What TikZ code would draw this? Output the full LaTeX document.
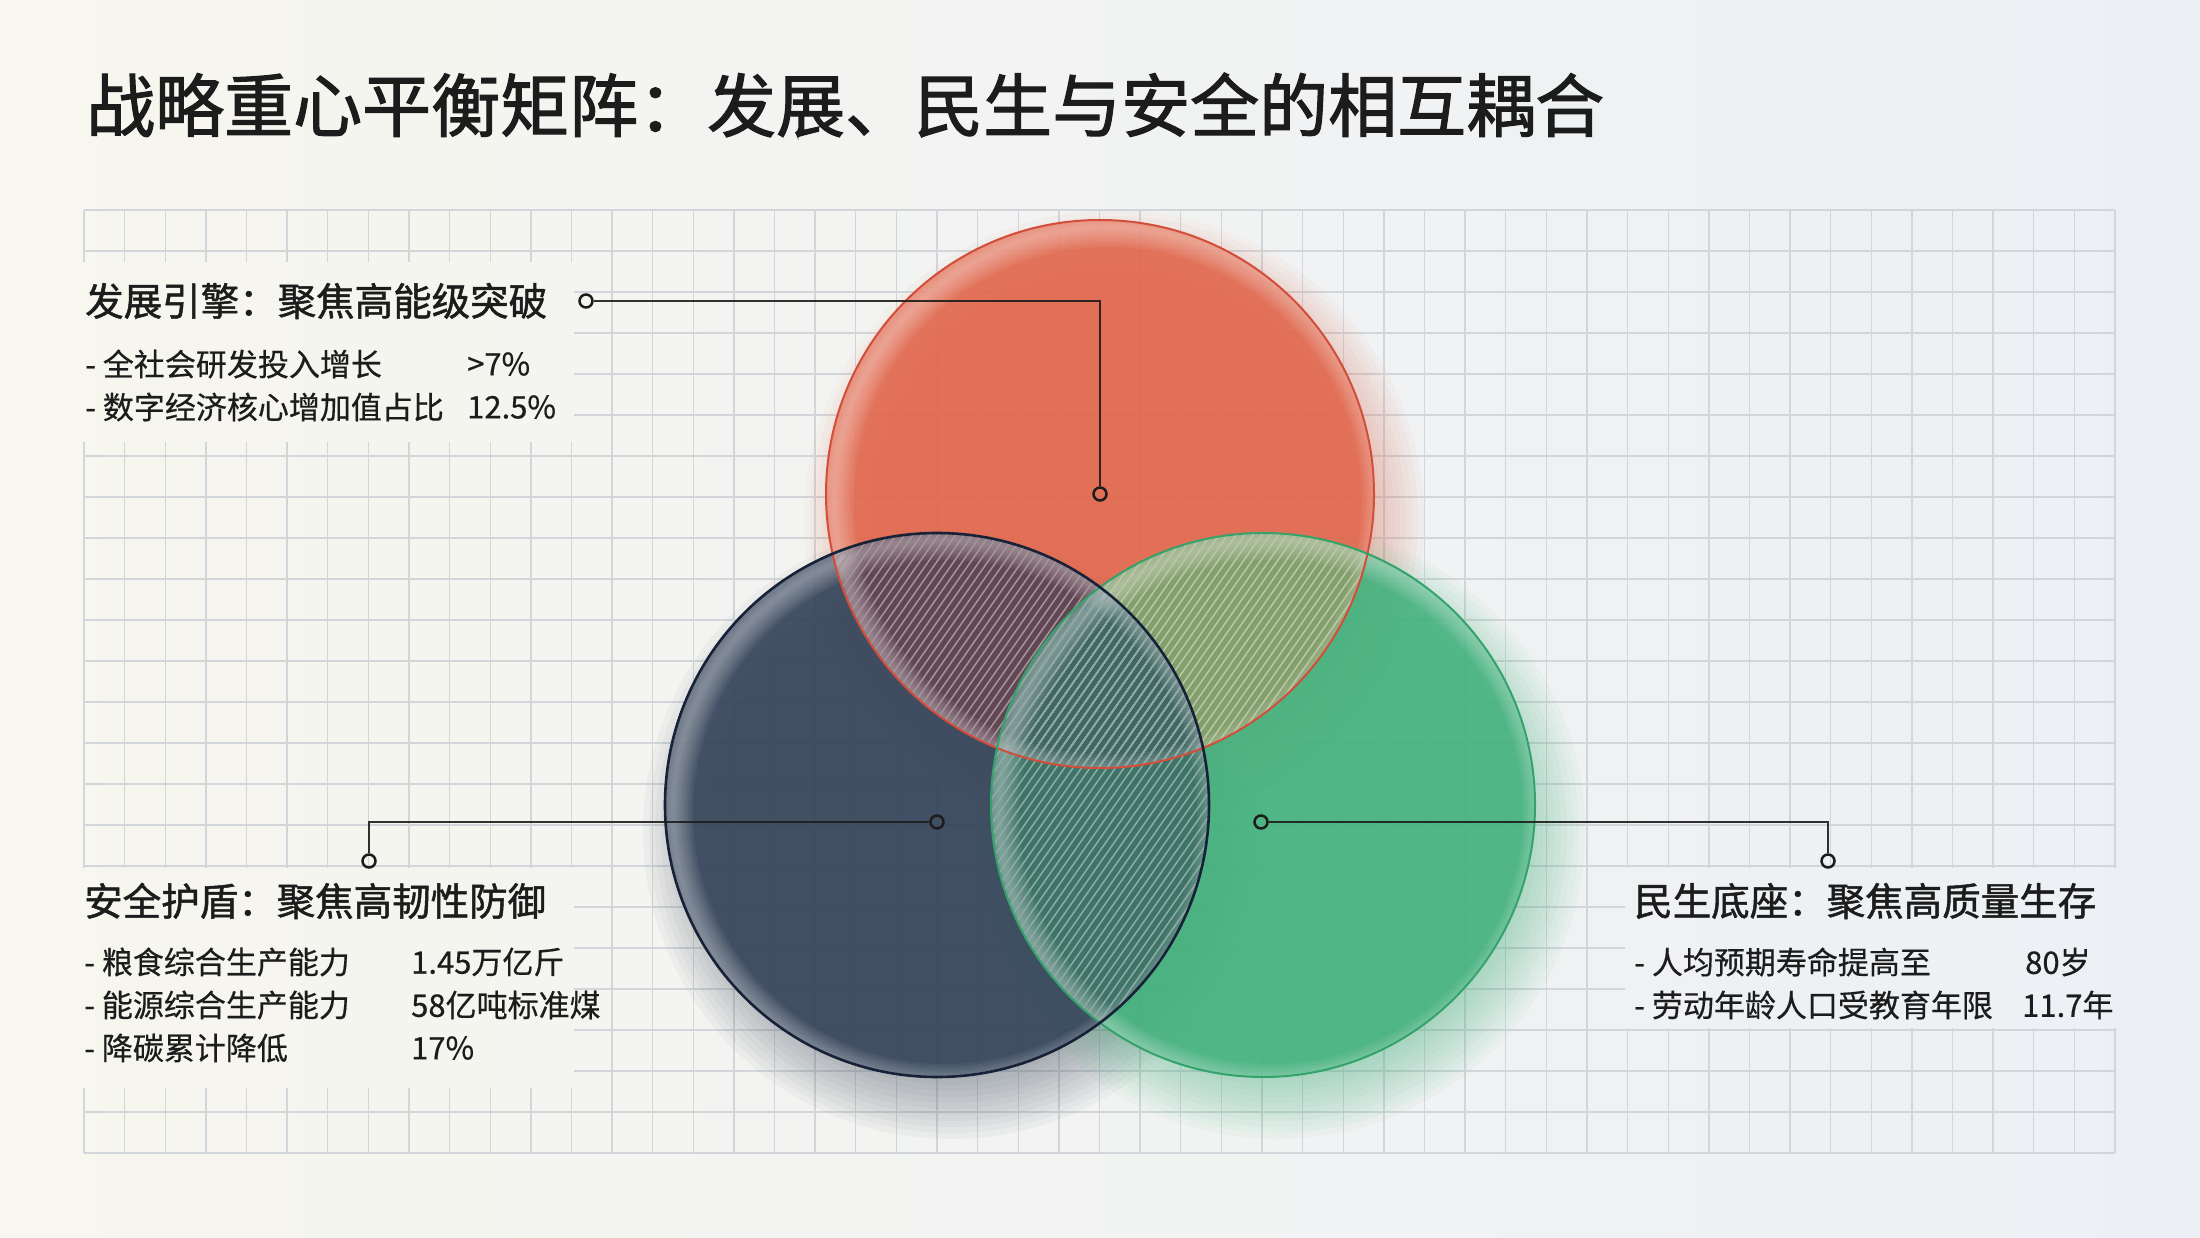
\documentclass[tikz,border=0pt]{standalone}
\usepackage{fontspec}
\setmainfont{Noto Sans CJK SC}
\newfontfamily\titlefont[FakeBold=1.6]{Noto Sans CJK SC}
\newfontfamily\headfont[FakeBold=1.3]{Noto Sans CJK SC}
\newfontfamily\itemfont[FakeBold=0.5]{Noto Sans CJK SC}
\usetikzlibrary{calc}
\definecolor{bgL}{HTML}{F7F6EF}
\definecolor{bgR}{HTML}{ECF0F5}
\definecolor{gridc}{HTML}{D2D6DA}
\definecolor{redc}{HTML}{E2694F}
\definecolor{navyc}{HTML}{36455B}
\definecolor{greenc}{HTML}{45B27E}
\definecolor{rnc}{HTML}{654654}
\definecolor{rgc}{HTML}{889E6A}
\definecolor{ngc}{HTML}{3E6F66}
\definecolor{rngc}{HTML}{3F6864}
\definecolor{redE}{HTML}{D24E3A}
\definecolor{navyE}{HTML}{172238}
\definecolor{greenE}{HTML}{34A36B}
\definecolor{ink}{HTML}{1C1C1C}
\newcommand\myshadow[3]{%
  \foreach \k in {0,...,11} {\fill[#3, opacity=0.045] ($(#1)+(14,26)$) circle[radius={#2+36-\k*6}];}}
\newcommand\myglow[2]{%
  \begin{scope}
    \clip (#1) circle[radius=#2];
    \foreach \k in {1,...,8} {\draw[white, opacity=0.05, line width=\k*5pt] ($(#1)+(8,7)$) circle[radius=#2];}
  \end{scope}}
\newcommand\myhatch[1]{%
  \foreach \a in {240,248.5,...,1545} {\draw[hatchline, draw=white!42!#1] (\a,1120) -- ({\a+420},520);}}
\newcommand\mygrid[4]{%
  \begin{scope}
    \clip (#1,#2) rectangle (#3,#4);
    \foreach \i in {0,...,50} {\draw[gridline] ({84+\i*40.62},210) -- ({84+\i*40.62},1153);}
    \foreach \j in {0,...,23} {\draw[gridline] (84,{210+\j*41}) -- (2115,{210+\j*41});}
  \end{scope}}
\begin{document}
\begin{tikzpicture}[x=1pt,y=-1pt,
  txt/.style={anchor=west, inner sep=0pt, text=ink},
  titletxt/.style={txt, font=\titlefont\fontsize{69}{80}\selectfont},
  headtxt/.style={txt, font=\headfont\fontsize{38.5}{46}\selectfont},
  itemtxt/.style={txt, font=\itemfont\fontsize{31}{38}\selectfont},
  gridline/.style={draw=gridc, line width=1.4pt},
  hatchline/.style={line width=1.5pt},
  pin/.style={circle, draw=ink, line width=2.5pt, inner sep=0pt, minimum size=13pt},
  leader/.style={draw=ink, line width=2.5pt, opacity=0.9}]
\useasboundingbox (0,0) rectangle (2200,1238);
\shade[left color=bgL, right color=bgR] (0,0) rectangle (2200,1238);

% grid, drawn around the three text blocks
\mygrid{82}{208}{2117}{262}
\mygrid{574}{262}{2117}{442}
\mygrid{82}{442}{2117}{867}
\mygrid{574}{867}{1625}{1028}
\mygrid{574}{1028}{2117}{1088}
\mygrid{82}{1088}{2117}{1155}

\coordinate (R) at (1100,494);
\coordinate (N) at (937,805);
\coordinate (G) at (1263,805);

% soft shadows
\myshadow{R}{274}{redc}
\myshadow{N}{272}{navyc!80!gray}
\myshadow{G}{272}{greenc}

% circle fills
\fill[redc, opacity=0.9] (R) circle[radius=274];
\fill[navyc, opacity=0.9] (N) circle[radius=272];
\fill[greenc, opacity=0.88] (G) circle[radius=272];
\begin{scope}\clip (R) circle[radius=274]; \fill[rnc, opacity=0.9] (N) circle[radius=272];\end{scope}
\begin{scope}\clip (R) circle[radius=274]; \fill[rgc, opacity=0.9] (G) circle[radius=272];\end{scope}
\begin{scope}\clip (N) circle[radius=272]; \fill[ngc, opacity=0.9] (G) circle[radius=272];\end{scope}
\begin{scope}\clip (R) circle[radius=274]; \clip (N) circle[radius=272]; \fill[rngc] (G) circle[radius=272];\end{scope}

% inner glass glow
\myglow{R}{274}
\myglow{N}{272}
\myglow{G}{272}

% hatching of the overlaps
\begin{scope}\clip (R) circle[radius=274]; \clip (N) circle[radius=272]; \myhatch{rnc}\end{scope}
\begin{scope}\clip (R) circle[radius=274]; \clip (G) circle[radius=272]; \myhatch{rgc}\end{scope}
\begin{scope}\clip (N) circle[radius=272]; \clip (G) circle[radius=272]; \myhatch{ngc}\end{scope}
\begin{scope}\clip (R) circle[radius=274]; \clip (N) circle[radius=272]; \clip (G) circle[radius=272]; \myhatch{rngc}\end{scope}

% outlines
\draw[redE, line width=2pt] (R) circle[radius=274];
\draw[greenE, line width=2pt] (G) circle[radius=272];
\draw[navyE, line width=2.6pt] (N) circle[radius=272];

% connectors
\node[pin] (rc) at (1100,494) {};
\node[pin] (rl) at (586,301) {};
\node[pin] (nc) at (937,822) {};
\node[pin] (nl) at (369,861) {};
\node[pin] (gc) at (1261,822) {};
\node[pin] (gl) at (1828,861) {};
\draw[leader] (rc) |- (rl);
\draw[leader] (nc) -| (nl);
\draw[leader] (gc) -| (gl);

% title
\node[titletxt] (title) at (86,105) {战略重心平衡矩阵：发展、民生与安全的相互耦合};

% development block
\node[headtxt] (h1) at (85,301) {发展引擎：聚焦高能级突破};
\node[itemtxt] (a1) at (85,364) {- 全社会研发投入增长};
\node[itemtxt] (a1v) at (467,364) {>7\%};
\node[itemtxt] (a2) at (85,407) {- 数字经济核心增加值占比};
\node[itemtxt] (a2v) at (467,407) {12.5\%};

% security block
\node[headtxt] (h2) at (84,901) {安全护盾：聚焦高韧性防御};
\node[itemtxt] (b1) at (84,962) {- 粮食综合生产能力};
\node[itemtxt] (b1v) at (411,962) {1.45万亿斤};
\node[itemtxt] (b2) at (84,1005) {- 能源综合生产能力};
\node[itemtxt] (b2v) at (411,1005) {58亿吨标准煤};
\node[itemtxt] (b3) at (84,1048) {- 降碳累计降低};
\node[itemtxt] (b3v) at (411,1048) {17\%};

% livelihood block
\node[headtxt] (h3) at (1634,901) {民生底座：聚焦高质量生存};
\node[itemtxt] (c1) at (1634,962) {- 人均预期寿命提高至};
\node[itemtxt] (c1v) at (2025,962) {80岁};
\node[itemtxt] (c2) at (1634,1005) {- 劳动年龄人口受教育年限};
\node[itemtxt] (c2v) at (2022,1005) {11.7年};
\end{tikzpicture}
\end{document}
